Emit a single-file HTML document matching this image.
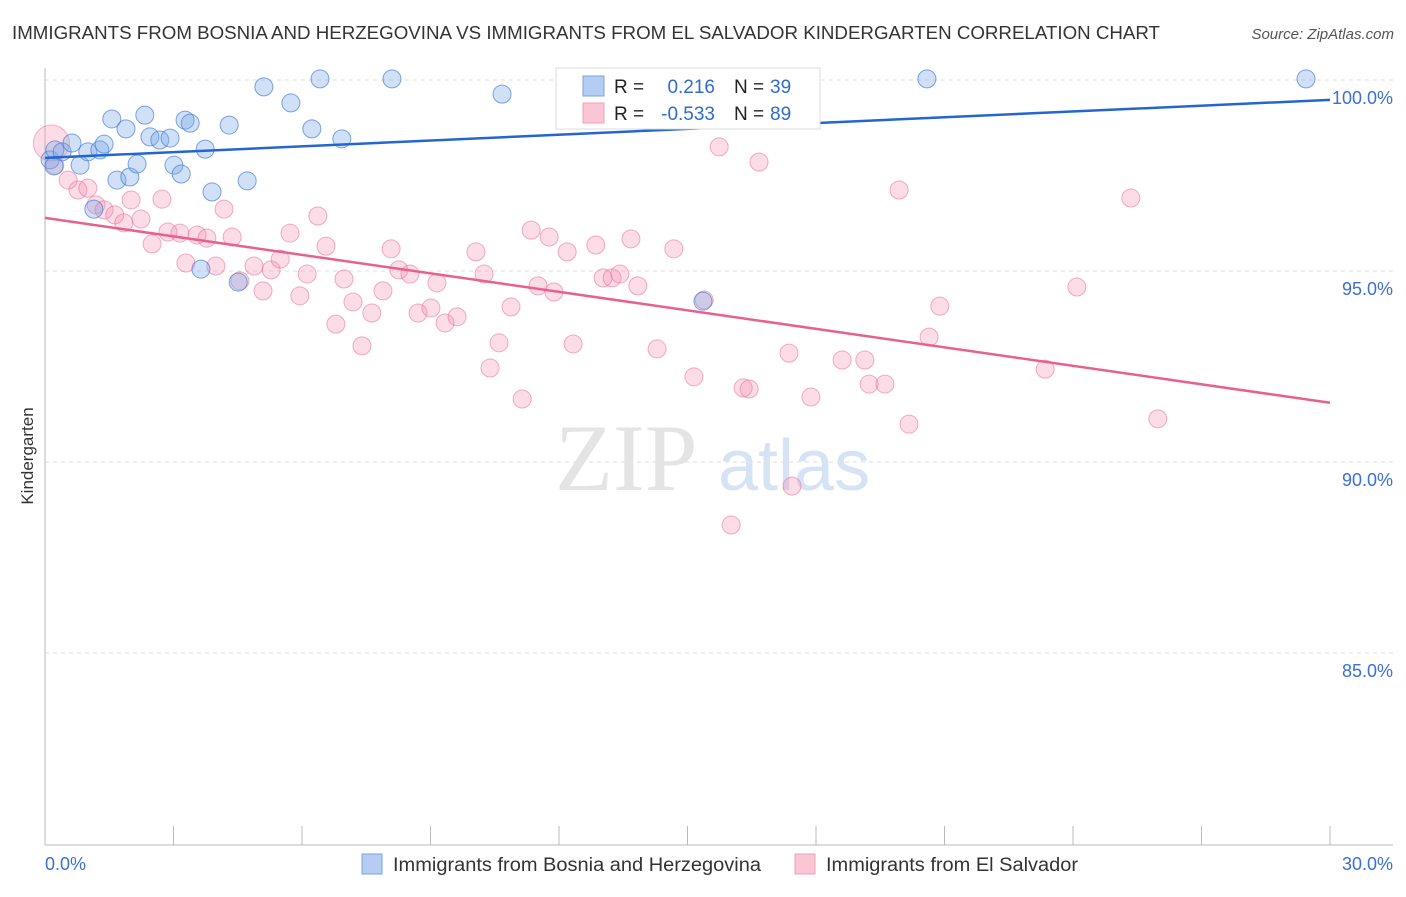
<!DOCTYPE html>
<html><head><meta charset="utf-8"><style>
body{margin:0;background:#fff;font-family:"Liberation Sans",sans-serif}
#wrap{position:relative;width:1406px;height:892px}
</style></head><body>
<div id="wrap">
<svg id="svg" width="1406" height="892" xmlns="http://www.w3.org/2000/svg" font-family="Liberation Sans, sans-serif"></svg>
</div>
<script>
const bluePx=[[50,160],[55,150],[62,152],[72,143],[80,165],[88,152],[100,150],[104,144],[112,119],[117,180],[126,129],[130,177],[137,164],[145,115],[150,137],[160,140],[170,138],[174,165],[181,174],[185,120],[190,123],[201,269],[205,149],[212,192],[229,125],[238,282],[247,181],[264,87],[291,103],[312,129],[320,79],[342,139],[392,79],[502,94],[703,301],[927,79],[1306,79],[54,166],[94,209]];
const pinkPx=[[55,165],[68,180],[78,190],[88,188],[96,205],[104,210],[115,215],[124,223],[131,200],[141,219],[152,244],[162,199],[168,232],[180,233],[186,263],[197,235],[207,238],[216,266],[224,209],[232,237],[240,281],[254,266],[263,291],[271,270],[280,259],[290,233],[300,296],[307,274],[318,216],[326,246],[336,324],[344,279],[353,302],[362,346],[372,313],[383,291],[391,249],[399,270],[410,274],[418,313],[431,308],[437,283],[445,323],[457,317],[476,252],[484,274],[490,368],[499,343],[511,307],[522,399],[531,230],[538,286],[549,237],[554,292],[567,252],[573,344],[596,245],[603,278],[612,278],[620,274],[631,239],[638,286],[657,349],[674,249],[694,377],[704,300],[719,147],[731,525],[743,388],[749,389],[759,162],[789,353],[792,486],[811,397],[842,360],[865,360],[869,384],[885,384],[899,190],[909,424],[929,337],[940,306],[1045,369],[1077,287],[1131,198],[1158,419]];
const blueX=bluePx.map(p=>+((p[0]-45)/1285*30).toFixed(2));
const blueY=bluePx.map(p=>+(100-(p[1]-80)/191*5).toFixed(2));
const pinkX=pinkPx.map(p=>+((p[0]-45)/1285*30).toFixed(2));
const pinkY=pinkPx.map(p=>+(100-(p[1]-80)/191*5).toFixed(2));
const yTicks=[100,95,90,85];
const yTickLabels=["100.0%","95.0%","90.0%","85.0%"];
const blueTrend=[[0,97.96],[30,99.48]];
const pinkTrend=[[0,96.39],[30,91.55]];
const sx=v=>45+v/30*1285;
const sy=v=>80+(100-v)/5*191;
const svg=document.getElementById('svg');
const NS='http://www.w3.org/2000/svg';
function el(t,a,txt){const e=document.createElementNS(NS,t);for(const k in a)e.setAttribute(k,a[k]);if(txt!==undefined)e.textContent=txt;svg.appendChild(e);return e;}
let e;
e=el('text',{x:12,y:39,'font-size':18,fill:'#333',textLength:1148,lengthAdjust:'spacingAndGlyphs'},'IMMIGRANTS FROM BOSNIA AND HERZEGOVINA VS IMMIGRANTS FROM EL SALVADOR KINDERGARTEN CORRELATION CHART');

e=el('text',{x:1394,y:39,'font-size':15,fill:'#555','font-style':'italic','text-anchor':'end'},'Source: ZipAtlas.com');

yTicks.forEach((t,i)=>{
 e=el('line',{x1:45,x2:1393,y1:sy(t),y2:sy(t),stroke:'#ddd','stroke-dasharray':'4,4'});
 
 e=el('text',{x:1393,y:sy(t)+24,'font-size':18,fill:'#3b6fd4','text-anchor':'end'},yTickLabels[i]);
 
});
e=el('line',{x1:45,x2:45,y1:68,y2:845,stroke:'#bbb'});
e=el('line',{x1:45,x2:1393,y1:845,y2:845,stroke:'#bbb'});
for(let k=1;k<=10;k++){e=el('line',{x1:sx(k*3),x2:sx(k*3),y1:826,y2:845,stroke:'#bbb'});}
e=el('text',{x:45,y:870,'font-size':18,fill:'#3b6fd4'},'0.0%');
e=el('text',{x:1393,y:870,'font-size':18,fill:'#3b6fd4','text-anchor':'end'},'30.0%');
e=el('text',{x:33,y:456,'font-size':17,fill:'#333','text-anchor':'middle',transform:'rotate(-90 33 456)'},'Kindergarten');
e=el('text',{x:555,y:490,'font-size':95,fill:'#e4e4e4','font-family':'Liberation Serif, serif'},'ZIP');
e=el('text',{x:718,y:490,'font-size':72,fill:'#d5e3f5'},'atlas');
e=el('circle',{cx:sx(0.15),cy:sy(98.35),r:18,fill:'rgba(244,143,177,0.3)',stroke:'rgba(233,110,150,0.5)'});
pinkX.forEach((x,i)=>{e=el('circle',{cx:sx(x),cy:sy(pinkY[i]),r:9,fill:'rgba(244,143,177,0.3)',stroke:'rgba(233,110,150,0.55)','stroke-width':1});
});
blueX.forEach((x,i)=>{e=el('circle',{cx:sx(x),cy:sy(blueY[i]),r:9,fill:'rgba(120,165,230,0.35)',stroke:'rgba(60,120,210,0.65)','stroke-width':1});
});
e=el('line',{x1:sx(blueTrend[0][0]),y1:sy(blueTrend[0][1]),x2:sx(blueTrend[1][0]),y2:sy(blueTrend[1][1]),stroke:'#2366d1','stroke-width':2.5});
e=el('line',{x1:sx(pinkTrend[0][0]),y1:sy(pinkTrend[0][1]),x2:sx(pinkTrend[1][0]),y2:sy(pinkTrend[1][1]),stroke:'#e8608f','stroke-width':2.5});
e=el('rect',{x:556,y:68,width:264,height:61,fill:'#fff',stroke:'#ddd'});
e=el('rect',{x:583,y:76,width:21,height:20,fill:'#b5cdf2',stroke:'#7aa3e0'});
e=el('rect',{x:583,y:103,width:21,height:20,fill:'#fac6d6',stroke:'#f0a0bb'});
const rows=[[93,'0.216','39'],[120,'-0.533','89']];
rows.forEach(r=>{
 e=el('text',{x:614,y:r[0],'font-size':19,fill:'#222'},'R =');
 e=el('text',{x:715,y:r[0],'font-size':19,fill:'#2e6bd0','text-anchor':'end'},r[1]);
 e=el('text',{x:734,y:r[0],'font-size':19,fill:'#222'},'N =');
 e=el('text',{x:770,y:r[0],'font-size':19,fill:'#2e6bd0'},r[2]);
});
e=el('rect',{x:362,y:854,width:20,height:20,fill:'#b5cdf2',stroke:'#7aa3e0'});
e=el('text',{x:393,y:871,'font-size':19,fill:'#333',textLength:368,lengthAdjust:'spacingAndGlyphs'},'Immigrants from Bosnia and Herzegovina');
e=el('rect',{x:795,y:854,width:20,height:20,fill:'#fac6d6',stroke:'#f0a0bb'});
e=el('text',{x:826,y:871,'font-size':19,fill:'#333',textLength:252,lengthAdjust:'spacingAndGlyphs'},'Immigrants from El Salvador');
</script>
</body></html>
